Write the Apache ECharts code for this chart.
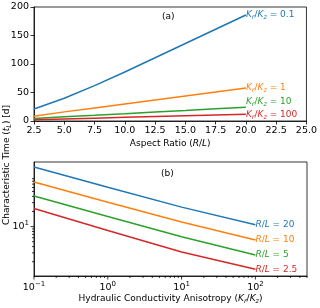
<!DOCTYPE html>
<html><head><meta charset="utf-8">
<script src="https://cdn.jsdelivr.net/npm/echarts@6/dist/echarts.min.js"></script>
<style>html,body{margin:0;padding:0;background:#fff}#c{width:320px;height:308px}</style>
</head><body><div id="c"></div>
<script>
// ---- Panel (a) data ----
const aspectRatios = [2.5, 5, 7.5, 10, 12.5, 15, 17.5, 20];
const tA_k01  = [21, 40, 62, 86, 111, 136, 161, 186];
const tA_k1   = [8.5, 16, 23, 30, 37, 44, 51, 58];
const tA_k10  = [4.5, 7.3, 10, 12.8, 16, 18.5, 21.3, 24];
const tA_k100 = [2, 3.5, 5, 6.5, 8, 9.3, 10.5, 11.7];
const kLabels = ['0.1', '1', '10', '100'];
// ---- Panel (b) data ----
const anisotropy = [0.1, 1, 10, 100];
const tB_rl20  = [154, 60.5, 24.4, 10.9];
const tB_rl10  = [77.4, 30.5, 12.3, 5.4];
const tB_rl5   = [40.8, 15.9, 6.3, 2.72];
const tB_rl25  = [23, 8.4, 3.13, 1.42];
const rlLabels = ['20', '10', '5', '2.5'];
// ---- Tick positions of the log axes in (b) ----
const xMajorB = [0.1, 1, 10, 100];
const xMinorB = [0.2,0.3,0.4,0.5,0.6,0.7,0.8,0.9, 2,3,4,5,6,7,8,9, 20,30,40,50,60,70,80,90, 200,300,400,500];
const yMajorB = [10];
const yMinorB = [2,3,4,5,6,7,8,9, 20,30,40,50,60,70,80,90];
const xRangeB = [0.1, 500];
const yRangeB = [1.04, 193];

const colors = ['#1f77b4', '#ff7f0e', '#2ca02c', '#d62728'];
const FF = 'DejaVu Sans';

function richFor(color) {
  return {
    n: {color, fontSize: 9, fontFamily: FF, lineHeight: 12},
    i: {color, fontSize: 9, fontFamily: FF, fontStyle: 'italic', lineHeight: 12},
    s: {color, fontSize: 6.5, fontFamily: FF, fontStyle: 'italic', lineHeight: 9, verticalAlign: 'bottom'}
  };
}

const seriesA = [tA_k01, tA_k1, tA_k10, tA_k100].map((vals, k) => ({
  type: 'line', xAxisIndex: 0, yAxisIndex: 0, showSymbol: false, symbol: 'none',
  data: aspectRatios.map((x, j) => [x, vals[j]]),
  lineStyle: {color: colors[k], width: 1.5}, itemStyle: {color: colors[k]},
  endLabel: {show: true, distance: 0, offset: k === 2 ? [0, -6] : [0, 0],
    formatter: '{i|K}{s|r}{n|/}{i|K}{s|z}{n| = ' + kLabels[k] + '}',
    rich: richFor(colors[k])}
}));

const seriesB = [tB_rl20, tB_rl10, tB_rl5, tB_rl25].map((vals, k) => ({
  type: 'line', xAxisIndex: 1, yAxisIndex: 1, showSymbol: false, symbol: 'none',
  data: anisotropy.map((x, j) => [x, vals[j]]),
  lineStyle: {color: colors[k], width: 1.5}, itemStyle: {color: colors[k]},
  endLabel: {show: true, distance: 0,
    formatter: '{i|R}{n|/}{i|L}{n| = ' + rlLabels[k] + '}',
    rich: richFor(colors[k])}
}));

function tickSeries(vals, axis, len) {
  return {
    type: 'custom', xAxisIndex: 1, yAxisIndex: 1, clip: false, silent: true, z: 5,
    data: vals.map(v => axis === 'x' ? [v, yRangeB[0]] : [xRangeB[0], v]),
    renderItem: (params, api) => {
      const p = api.coord([api.value(0), api.value(1)]);
      const shape = axis === 'x'
        ? {x1: p[0], y1: p[1], x2: p[0], y2: p[1] + len}
        : {x1: p[0], y1: p[1], x2: p[0] - len, y2: p[1]};
      return {type: 'line', shape, style: {stroke: '#000', lineWidth: 0.8}};
    }
  };
}

function powLabel(v, allowed) {
  const l = Math.log10(v), e = Math.round(l);
  if (Math.abs(l - e) > 1e-6) return '';
  if (allowed && allowed.indexOf(e) < 0) return '';
  return '{b|10}{p|' + (e < 0 ? '\u2212' + (-e) : e) + '}';
}
const powRich = {
  b: {fontSize: 9.5, fontFamily: FF, color: '#000', lineHeight: 13},
  p: {fontSize: 7, fontFamily: FF, color: '#000', lineHeight: 9, verticalAlign: 'top'}
};

const axisLineStyle = {show: true, lineStyle: {color: '#000', width: 0.8}};
const labelBase = {color: '#000', fontSize: 9.5, fontFamily: FF, hideOverlap: false, showMinLabel: true, showMaxLabel: true};
const nameStyle = {color: '#000', fontSize: 9, fontFamily: FF};

const chart = echarts.init(document.getElementById('c'), null, {renderer: 'canvas'});
chart.setOption({
  animation: false,
  backgroundColor: '#fff',
  textStyle: {fontFamily: FF},
  grid: [
    {left: 34, top: 7, width: 273, height: 114, show: true, borderColor: '#000', borderWidth: 0.8, containLabel: false},
    {left: 34, top: 162, width: 273, height: 114, show: true, borderColor: '#000', borderWidth: 0.8, containLabel: false}
  ],
  xAxis: [
    {gridIndex: 0, type: 'value', min: 2.5, max: 25, interval: 2.5,
     axisLine: axisLineStyle, splitLine: {show: false},
     axisTick: {show: true, inside: false, length: 3.5, lineStyle: {color: '#000', width: 0.8}},
     axisLabel: Object.assign({}, labelBase, {margin: 5, formatter: v => v.toFixed(1)}),
     name: '{n|Aspect Ratio (}{i|R}{n|/}{i|L}{n|)}', nameLocation: 'middle', nameGap: 18,
     nameTextStyle: Object.assign({}, nameStyle, {rich: {
        n: {fontSize: 9, fontFamily: FF, color: '#000'},
        i: {fontSize: 9, fontFamily: FF, color: '#000', fontStyle: 'italic'}}})},
    {gridIndex: 1, type: 'log', logBase: 10, min: xRangeB[0], max: xRangeB[1],
     axisLine: axisLineStyle, splitLine: {show: false}, axisTick: {show: false}, minorTick: {show: false},
     axisLabel: Object.assign({}, labelBase, {margin: 5, formatter: v => powLabel(v), rich: powRich}),
     name: '{n|Hydraulic Conductivity Anisotropy (}{i|K}{s|r}{n|/}{i|K}{s|z}{n|)}',
     nameLocation: 'middle', nameGap: 17,
     nameTextStyle: Object.assign({}, nameStyle, {rich: {
        n: {fontSize: 9, fontFamily: FF, color: '#000', lineHeight: 12},
        i: {fontSize: 9, fontFamily: FF, color: '#000', fontStyle: 'italic', lineHeight: 12},
        s: {fontSize: 6.5, fontFamily: FF, color: '#000', fontStyle: 'italic', lineHeight: 9, verticalAlign: 'bottom'}}})}
  ],
  yAxis: [
    {gridIndex: 0, type: 'value', min: 0, max: 200, interval: 50,
     axisLine: axisLineStyle, splitLine: {show: false},
     axisTick: {show: true, inside: false, length: 3.5, lineStyle: {color: '#000', width: 0.8}},
     axisLabel: Object.assign({}, labelBase, {margin: 5})},
    {gridIndex: 1, type: 'log', logBase: 10, min: yRangeB[0], max: yRangeB[1],
     axisLine: axisLineStyle, splitLine: {show: false}, axisTick: {show: false}, minorTick: {show: false},
     axisLabel: Object.assign({}, labelBase, {margin: 5, formatter: v => powLabel(v, [1]), rich: powRich})}
  ],
  graphic: [
    {type: 'text', left: 162, top: 12, style: {text: '(a)', fontSize: 9, fontFamily: FF, fill: '#000'}},
    {type: 'text', left: 161, top: 169, style: {text: '(b)', fontSize: 9, fontFamily: FF, fill: '#000'}},
    {type: 'text', x: 7, y: 165, rotation: Math.PI / 2,
     style: {text: '{n|Characteristic Time (}{i|t}{s|L}{n|) [d]}', align: 'center', verticalAlign: 'middle',
       rich: {
        n: {fontSize: 9, fontFamily: FF, fill: '#000', lineHeight: 12},
        i: {fontSize: 9, fontFamily: FF, fill: '#000', fontStyle: 'italic', lineHeight: 12},
        s: {fontSize: 6.5, fontFamily: FF, fill: '#000', fontStyle: 'italic', lineHeight: 9, verticalAlign: 'bottom'}}}}
  ],
  series: seriesA.concat(seriesB).concat([
    tickSeries(xMajorB, 'x', 3.5), tickSeries(xMinorB, 'x', 2),
    tickSeries(yMajorB, 'y', 3.5), tickSeries(yMinorB, 'y', 2)
  ])
});
</script></body></html>
